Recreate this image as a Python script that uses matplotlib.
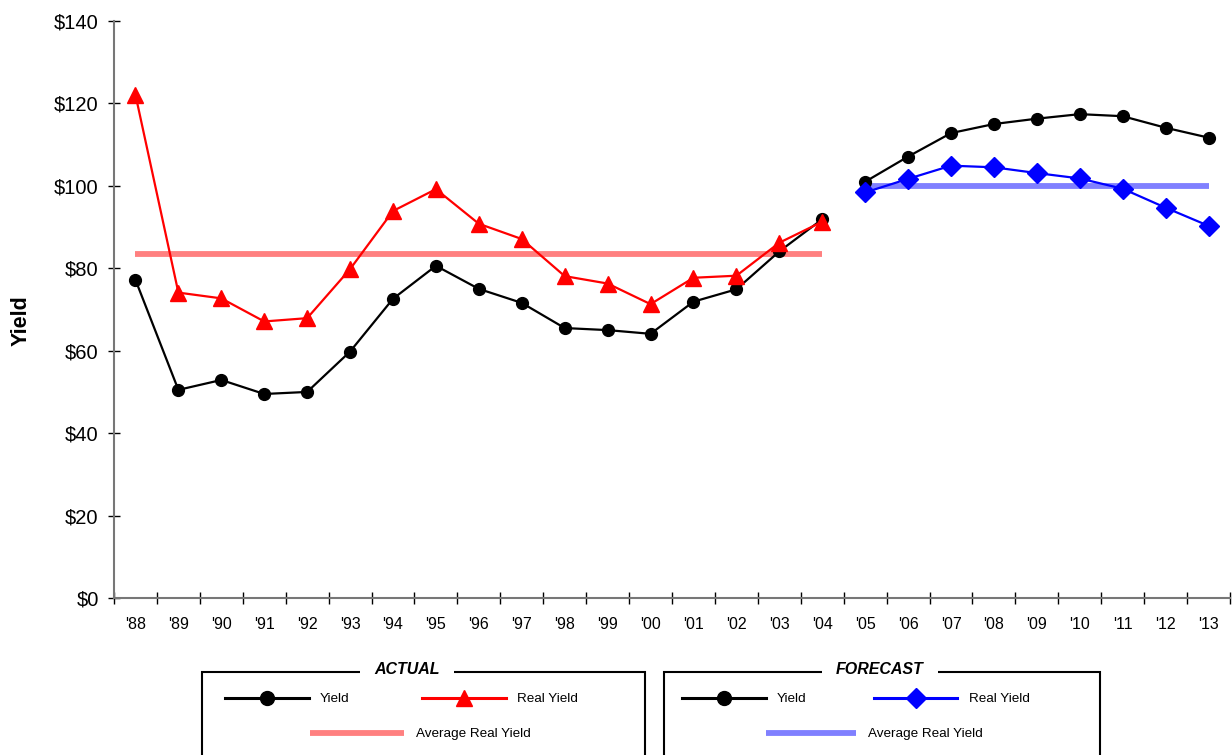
import matplotlib.pyplot as plt
from matplotlib.lines import Line2D
from matplotlib.patches import Rectangle
from matplotlib.ticker import FuncFormatter, MultipleLocator

plt.rcParams['font.family'] = ['Liberation Sans', 'DejaVu Sans']

# --- data ---
years = ["'88", "'89", "'90", "'91", "'92", "'93", "'94", "'95", "'96", "'97",
         "'98", "'99", "'00", "'01", "'02", "'03", "'04", "'05", "'06", "'07",
         "'08", "'09", "'10", "'11", "'12", "'13"]
n_actual = 17  # '88 - '04

yield_actual = [77.2, 50.5, 52.9, 49.5, 50.0, 59.8, 72.6, 80.6, 75.0, 71.6,
                65.5, 65.0, 64.1, 71.9, 74.9, 84.1, 91.9]
real_actual = [122.1, 74.1, 72.7, 67.1, 67.9, 79.8, 93.9, 99.2, 90.8, 87.1,
               78.1, 76.3, 71.3, 77.7, 78.2, 86.2, 91.3]
avg_real_actual = 83.5

yield_forecast = [101.0, 107.1, 112.8, 115.0, 116.3, 117.4, 116.9, 114.1, 111.7]
real_forecast = [98.4, 101.7, 104.9, 104.5, 103.1, 101.8, 99.3, 94.7, 90.3]
avg_real_forecast = 100.0

W, H = 1232, 755
fig = plt.figure(figsize=(W / 100, H / 100), dpi=100)
ax = fig.add_axes([114 / W, 1 - 598 / H, (1230 - 114) / W, (598 - 21) / H])

xa = list(range(n_actual))
xf = list(range(n_actual, len(years)))

# --- actual period ---
ax.plot([xa[0], xa[-1]], [avg_real_actual] * 2, color='#ff8080', lw=4.2,
        solid_capstyle='butt', zorder=2)
ax.plot(xa, yield_actual, color='black', lw=1.6, marker='o', ms=8.5, zorder=3)
ax.plot(xa, real_actual, color='#ff0000', lw=1.6, marker='^', ms=12, zorder=4)

# --- forecast period ---
ax.plot([xf[0], xf[-1]], [avg_real_forecast] * 2, color='#8080ff', lw=4.2,
        solid_capstyle='butt', zorder=2)
ax.plot(xf, yield_forecast, color='black', lw=1.6, marker='o', ms=8.5, zorder=3)
ax.plot(xf, real_forecast, color='#0000ff', lw=1.6, marker='D', ms=10, zorder=4)

# --- axes ---
ax.set_xlim(-0.5, len(years) - 0.5)
ax.set_ylim(0, 140)
ax.yaxis.set_major_locator(MultipleLocator(20))
ax.yaxis.set_major_formatter(FuncFormatter(lambda v, p: f'${v:.0f}'))
ax.set_xticks(range(len(years)))
ax.set_xticklabels(years)
ax.set_xticks([i - 0.5 for i in range(len(years) + 1)], minor=True)

for s in ['top', 'right']:
    ax.spines[s].set_visible(False)
for s in ['left', 'bottom']:
    ax.spines[s].set_color('#777777')
    ax.spines[s].set_linewidth(1.5)

ax.tick_params(axis='y', direction='inout', length=8, width=1, pad=7,
               labelsize=14.5, color='black')
ax.tick_params(axis='x', which='major', length=0, pad=14, labelsize=11.5)
ax.tick_params(axis='x', which='minor', direction='inout', length=8, width=1,
               color='black')
ax.set_ylabel('Yield', fontsize=15.5, fontweight='bold', labelpad=16, y=0.48)

# --- legend boxes ---
def legend_box(x0, x1, title, tx):
    fig.add_artist(Rectangle((x0 / W, -0.1), (x1 - x0) / W, 0.1 + 1 - 672 / H,
                             transform=fig.transFigure, fill=False,
                             edgecolor='black', lw=1.5))
    fig.text(tx / W, 1 - 670 / H, title, ha='center', va='center',
             fontsize=11.5, fontweight='bold', fontstyle='italic',
             bbox=dict(facecolor='white', edgecolor='none', pad=10))


def legend_row(handles, labels, x, y, hl, cs=5.3):
    fig.legend(handles, labels, loc='center left',
               bbox_to_anchor=(x / W, 1 - y / H), ncol=len(handles),
               frameon=False, borderpad=0, borderaxespad=0, fontsize=9.7,
               handlelength=hl, handletextpad=0.85, columnspacing=cs)


legend_box(202, 645, 'ACTUAL', 407)
legend_box(664, 1100, 'FORECAST', 880)

h_yield = Line2D([], [], color='black', lw=2.2, marker='o', ms=10)
h_red = Line2D([], [], color='#ff0000', lw=2.2, marker='^', ms=11)
h_blue = Line2D([], [], color='#0000ff', lw=2.2, marker='D', ms=10)
h_avg_r = Line2D([], [], color='#ff8080', lw=4.2, solid_capstyle='butt')
h_avg_b = Line2D([], [], color='#8080ff', lw=4.2, solid_capstyle='butt')

legend_row([h_yield, h_red], ['Yield', 'Real Yield'], 225, 699, 6.2, 5.4)
legend_row([h_avg_r], ['Average Real Yield'], 310, 734, 7.0)
legend_row([h_yield, h_blue], ['Yield', 'Real Yield'], 682, 699, 6.2, 5.0)
legend_row([h_avg_b], ['Average Real Yield'], 766, 734, 6.7)

fig.savefig('out.png', dpi=100)
